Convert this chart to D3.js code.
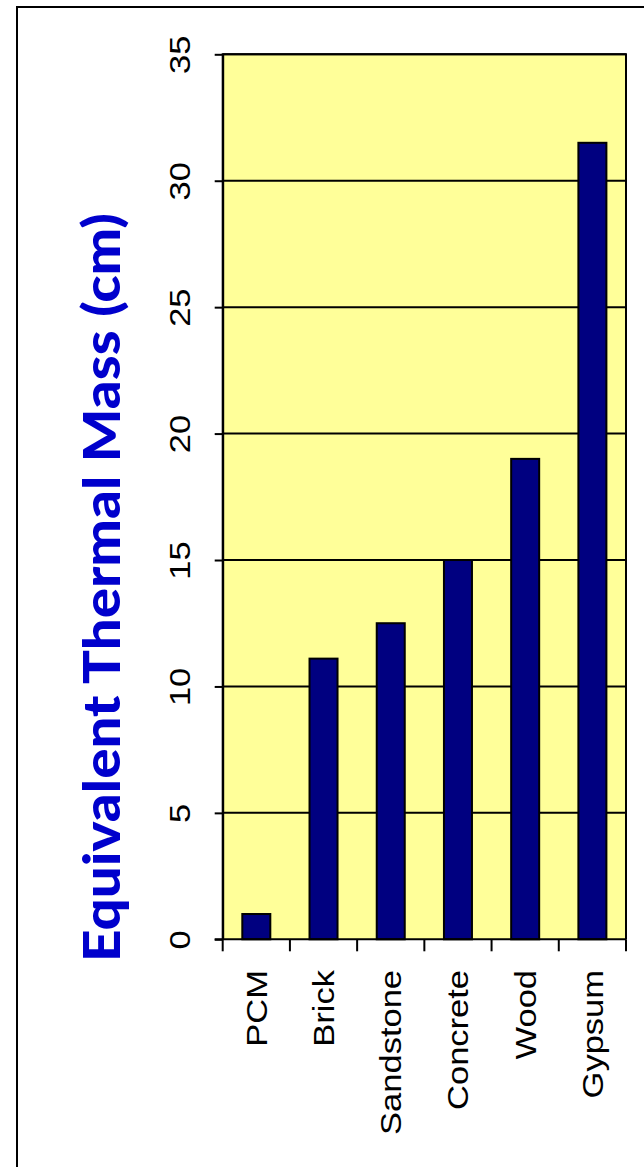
<!DOCTYPE html>
<html><head><meta charset="utf-8">
<script src="https://cdn.jsdelivr.net/npm/d3@7"></script>
<style>html,body{margin:0;padding:0;background:#fff;}svg{display:block;}</style>
</head><body>
<svg id="chart" width="644" height="1167"></svg>
<script>
const categories = ["PCM", "Brick", "Sandstone", "Concrete", "Wood", "Gypsum"];
const values = [1.0, 11.1, 12.5, 15.0, 19.0, 31.5];
const yTicks = [0, 5, 10, 15, 20, 25, 30, 35];
const yTitle = "Equivalent Thermal Mass (cm)";

const svg = d3.select("#chart");
const pLeft = 222.7, pRight = 626, pTop = 54.3, pBottom = 939.3;
const stretch = 1.15;

// outer frame (extends past window on right/bottom)
svg.append("rect").attr("x", 17).attr("y", 7).attr("width", 700).attr("height", 1300)
  .attr("fill", "none").attr("stroke", "#000").attr("stroke-width", 2);

const x = d3.scaleBand().domain(categories).range([pLeft, pRight]).paddingInner(0).paddingOuter(0);
const y = d3.scaleLinear().domain([0, 35]).range([pBottom, pTop]);
const barW = x.bandwidth() / 2.4;

// plot background
svg.append("rect").attr("x", pLeft).attr("y", pTop).attr("width", pRight - pLeft).attr("height", pBottom - pTop)
  .attr("fill", "#FFFF99");

// gridlines
svg.append("g").selectAll("line").data(yTicks.filter(d => d > 0)).join("line")
  .attr("x1", pLeft).attr("x2", pRight).attr("y1", d => y(d)).attr("y2", d => y(d))
  .attr("stroke", "#000").attr("stroke-width", 2);

// bars
svg.append("g").selectAll("rect").data(values).join("rect")
  .attr("x", (d, i) => x(categories[i]) + (x.bandwidth() - barW) / 2)
  .attr("y", d => y(d))
  .attr("width", barW)
  .attr("height", d => y(0) - y(d))
  .attr("fill", "#000080").attr("stroke", "#000").attr("stroke-width", 2);

// plot border (left, right, top)
svg.append("path")
  .attr("d", `M${pLeft},${pBottom}V${pTop}H${pRight}V${pBottom}`)
  .attr("fill", "none").attr("stroke", "#000").attr("stroke-width", 2);

// y axis
const yAxis = d3.axisLeft(y).tickValues(yTicks).tickSize(8).tickSizeOuter(0).tickFormat(d3.format("d"));
const gy = svg.append("g").attr("transform", `translate(${pLeft},0)`).call(yAxis);
gy.select(".domain").attr("stroke", "#000").attr("stroke-width", 2);
gy.selectAll(".tick line").attr("stroke", "#000").attr("stroke-width", 2);
gy.selectAll(".tick text").remove();
gy.selectAll(".tick").append("text")
  .attr("transform", `translate(${190 - pLeft},0) rotate(-90) scale(${stretch},1)`)
  .attr("text-anchor", "middle")
  .attr("fill", "#000")
  .style("font-family", "'Liberation Sans', Arial, sans-serif")
  .style("font-size", "30px")
  .text(d => d);

// x axis
const gx = svg.append("g").attr("transform", `translate(0,${pBottom})`);
gx.append("line").attr("x1", pLeft - 8).attr("x2", pRight).attr("y1", 0).attr("y2", 0)
  .attr("stroke", "#000").attr("stroke-width", 2);
const bounds = categories.map(c => x(c)).concat([pRight]);
gx.selectAll("line.tk").data(bounds).join("line").attr("class", "tk")
  .attr("x1", d => d).attr("x2", d => d).attr("y1", 0).attr("y2", 12)
  .attr("stroke", "#000").attr("stroke-width", 2);
gx.selectAll("text").data(categories).join("text")
  .attr("transform", d => `translate(${x(d) + x.bandwidth() / 2},${970 - pBottom}) rotate(-90) scale(${stretch},1)`)
  .attr("text-anchor", "end")
  .attr("dy", "0.35em")
  .attr("fill", "#000")
  .style("font-family", "'Liberation Sans', Arial, sans-serif")
  .style("font-size", "30px")
  .text(d => d);

// y title
svg.append("text")
  .attr("transform", `translate(120,${(213 + 962) / 2}) rotate(-90)`)
  .attr("text-anchor", "middle")
  .attr("fill", "#0000CC")
  .attr("textLength", 749).attr("lengthAdjust", "spacingAndGlyphs")
  .style("font-family", "Lato, 'Open Sans', sans-serif")
  .style("font-weight", "900")
  .style("font-size", "52px")
  .text(yTitle);
</script>
</body></html>
